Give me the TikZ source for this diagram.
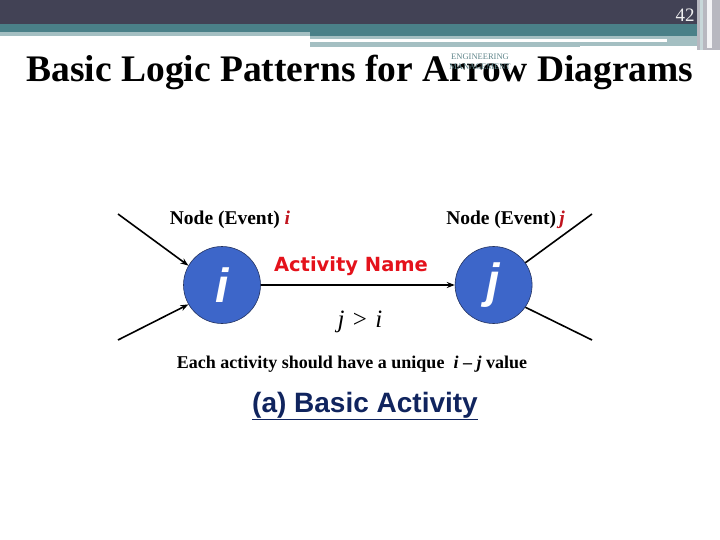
\documentclass[tikz,border=0pt]{standalone}
\usepackage{fontspec}
\setmainfont{Liberation Serif}
\newfontfamily\actfont{DejaVu Sans}
\newfontfamily\capfont{Liberation Sans}
\usetikzlibrary{arrows.meta, positioning}
\definecolor{barDark}{HTML}{424255}
\definecolor{barTeal}{HTML}{4A8088}
\definecolor{barLight}{HTML}{A4BFC2}
\definecolor{barGray}{HTML}{B8B8C0}
\definecolor{eventBlue}{HTML}{3D66C9}
\definecolor{eventEdge}{HTML}{23325F}
\definecolor{labelRed}{HTML}{C0141E}
\definecolor{actRed}{HTML}{E4121B}
\definecolor{capNavy}{HTML}{10245E}
\definecolor{tagTeal}{HTML}{5E8489}
\tikzset{
  arrowK/.style={-{Stealth[length=8pt, width=6pt]}, black, line width=1.6pt},
  lineK/.style={black, line width=1.6pt},
  eventNode/.style={circle, draw=eventEdge, fill=eventBlue, line width=0.6pt,
                    minimum size=77pt, inner sep=0pt, text=white,
                    font=\capfont\bfseries\itshape\fontsize{48}{48}\selectfont},
  eventLabel/.style={font=\bfseries\fontsize{19.5}{22}\selectfont},
}
\begin{document}
\begin{tikzpicture}[x=1pt, y=-1pt, node distance=10pt]
  \useasboundingbox (0,0) rectangle (720,540);
  % header bars
  \fill[barDark] (0,0) rectangle (697,24);
  \fill[barTeal] (0,24) rectangle (697,36);
  \fill[barLight] (0,32) rectangle (310,36);
  \fill[barLight] (310,36) rectangle (707,47);
  \fill[white] (310,39) rectangle (667,42);
  \fill[white] (580,46) rectangle (707,50);
  \fill[barGray] (697,0) rectangle (720,50);
  \fill[barLight!60] (700,0) rectangle (703,50);
  \fill[white!85!barGray] (707,0) rectangle (712,48);
  \node[text=white!92!barDark, font=\fontsize{19}{19}\selectfont] (pg) at (685,15) {42};
  % title
  \node[font=\bfseries\fontsize{37.5}{40}\selectfont] (title) at (360,72)
    {Basic Logic Patterns for Arrow Diagrams};
  \node[text=tagTeal, font=\fontsize{8.5}{10}\selectfont, align=center, inner sep=0pt]
    (tag) at (480,62) {ENGINEERING\\MANAGEMENT};
  % events
  \node[eventNode] (i) at (222,285) {i};
  \node[eventNode, right=194pt of i] (j) {j};
  \node[eventLabel, above=14pt of i, xshift=8pt] (ilab) {Node (Event) \textcolor{labelRed}{\textit{i}}};
  \node[eventLabel, above=14pt of j, xshift=12pt] (jlab) {Node (Event)\,\textcolor{labelRed}{\textit{j}}};
  % activity
  \draw[arrowK] (i) -- (j);
  \node[text=actRed, font=\actfont\bfseries\fontsize{19.5}{22}\selectfont] (act) at (351,266) {Activity Name};
  \node[font=\fontsize{25}{27}\selectfont] (rel) at (360,322) {\textit{j}\,\,>\,\,\textit{i}};
  % free ends
  \coordinate (inA) at (118,214);
  \coordinate (inB) at (118,340);
  \coordinate (outA) at (592,214);
  \coordinate (outB) at (592,340);
  \draw[arrowK] (inA) -- (i.150);
  \draw[arrowK] (inB) -- (i.210);
  \draw[lineK] (j.35) -- (outA);
  \draw[lineK] (j.325) -- (outB);
  % notes
  \node[font=\bfseries\fontsize{18}{20}\selectfont] (note) at (352,364)
    {Each activity should have a unique \ \textit{i} -- \textit{j} value};
  \node[text=capNavy, font=\capfont\bfseries\fontsize{28}{30}\selectfont] (cap) at (365,406)
    {\underline{(a) Basic Activity}};
\end{tikzpicture}
\end{document}
